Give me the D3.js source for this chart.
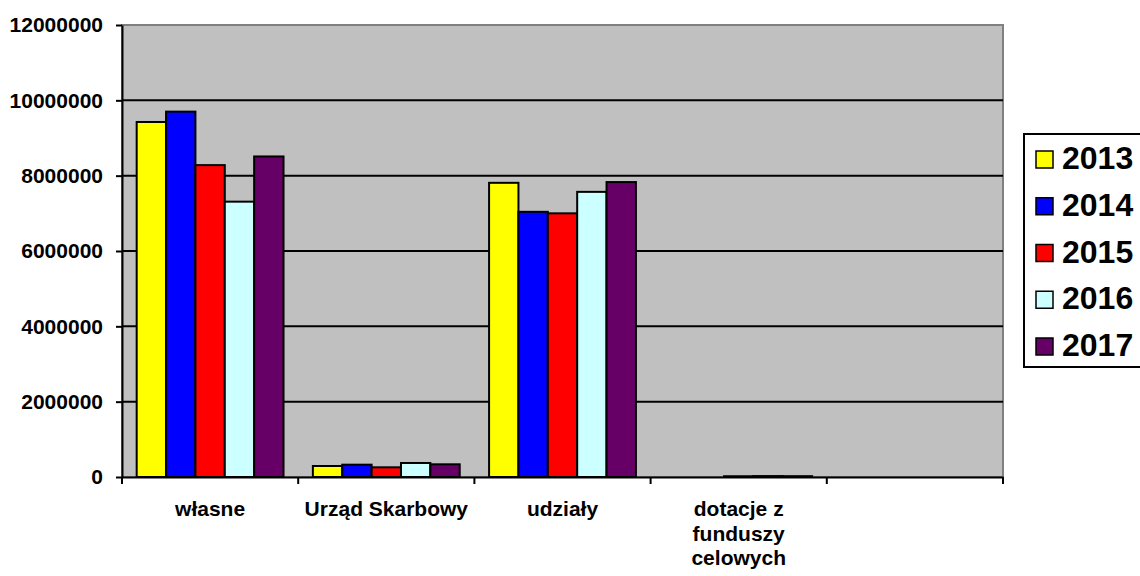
<!DOCTYPE html>
<html>
<head>
<meta charset="utf-8">
<script src="https://cdn.jsdelivr.net/npm/d3@7"></script>
<style>
  body { margin: 0; background: #fff; }
  svg text { font-family: "Liberation Sans", Arial, sans-serif; font-weight: bold; fill: #000; }
</style>
</head>
<body>
<script>
// categories (last one is an empty slot, as in the original sheet)
var categories = ["własne", "Urząd Skarbowy", "udziały", "dotacje z funduszy celowych", ""];
var categoryLines = [["własne"], ["Urząd Skarbowy"], ["udziały"], ["dotacje z", "funduszy", "celowych"], []];
var years = ["2013", "2014", "2015", "2016", "2017"];
var colors = ["#FFFF00", "#0000FF", "#FF0000", "#CCFFFF", "#660066"];

var v2013 = [9425000, 292000, 7810000, 0, 0];
var v2014 = [9700000, 327000, 7040000, 0, 0];
var v2015 = [8280000, 257000, 7000000, 20000, 0];
var v2016 = [7310000, 372000, 7570000, 25000, 0];
var v2017 = [8510000, 337000, 7830000, 22000, 0];
var series = [v2013, v2014, v2015, v2016, v2017];

var yTicks = [0, 2000000, 4000000, 6000000, 8000000, 10000000, 12000000];

var w = 1140, h = 576;
// note: "top" is taken by window.top, hence the m prefix
var mLeft = 122, mRight = 1003, mTop = 25, mBottom = 477;

var svg = d3.select("body").append("svg")
            .attr("width", w)
            .attr("height", h);

var x = d3.scaleBand()
          .domain(d3.range(categories.length))
          .range([mLeft, mRight])
          .padding(0);

var bw = x.bandwidth();
var xInner = d3.scaleBand()
          .domain(d3.range(years.length))
          .range([bw / 12, bw - bw / 12])
          .padding(0);

var y = d3.scaleLinear()
          .domain([0, 12000000])
          .range([mBottom, mTop]);

// plot area
svg.append("rect")
   .attr("x", mLeft).attr("y", mTop)
   .attr("width", mRight - mLeft).attr("height", mBottom - mTop)
   .attr("fill", "#C0C0C0")
   .attr("stroke", "#808080")
   .attr("stroke-width", 2);

// gridlines
svg.append("g").selectAll("line")
   .data(yTicks.filter(d => d > 0 && d < 12000000))
   .enter().append("line")
   .attr("x1", mLeft).attr("x2", mRight)
   .attr("y1", d => y(d)).attr("y2", d => y(d))
   .attr("stroke", "#000")
   .attr("stroke-width", 2);

// bars
var groups = svg.append("g").selectAll("g")
   .data(series)
   .enter().append("g")
   .attr("fill", (d, i) => colors[i]);

groups.selectAll("rect")
   .data((d, i) => d.map((v, j) => ({ v: v, s: i, c: j })).filter(d => d.v > 0))
   .enter().append("rect")
   .attr("x", d => x(d.c) + xInner(d.s))
   .attr("y", d => y(d.v))
   .attr("width", xInner.bandwidth())
   .attr("height", d => y(0) - y(d.v))
   .attr("stroke", "#000")
   .attr("stroke-width", 2);

// y axis
var yAxis = d3.axisLeft(y)
   .tickValues(yTicks)
   .tickFormat(d3.format("d"))
   .tickSize(6)
   .tickSizeOuter(0)
   .tickPadding(13);

var gy = svg.append("g")
   .attr("transform", `translate(${mLeft}, 0)`)
   .call(yAxis);
gy.selectAll("text").style("font-size", "21px").attr("font-family", null);
gy.selectAll("line, path").attr("stroke", "#000").attr("stroke-width", 2);

// x axis: line plus ticks at category borders
var xAxis = d3.axisBottom(x).tickSize(0).tickSizeOuter(0).tickFormat("");
var gx = svg.append("g")
   .attr("transform", `translate(0, ${mBottom})`)
   .call(xAxis);
gx.select("path").attr("stroke", "#000").attr("stroke-width", 2);
gx.selectAll(".tick").remove();

var borders = d3.range(categories.length).map(i => x(i)).concat([x(categories.length - 1) + bw]);
gx.selectAll(".border")
   .data(borders)
   .enter().append("line")
   .attr("class", "border")
   .attr("x1", d => d).attr("x2", d => d)
   .attr("y1", 0).attr("y2", 7)
   .attr("stroke", "#000")
   .attr("stroke-width", 2);

// category labels
var labels = svg.append("g").selectAll("text")
   .data(categoryLines)
   .enter().append("text")
   .attr("text-anchor", "middle")
   .style("font-size", "21px")
   .attr("transform", (d, i) => `translate(${x(i) + bw / 2}, 516)`);
labels.selectAll("tspan")
   .data(d => d)
   .enter().append("tspan")
   .attr("x", 0)
   .attr("y", (d, i) => i * 24.5)
   .text(d => d);

// legend
var legend = svg.append("g")
   .attr("transform", "translate(1024, 134)");
legend.append("rect")
   .attr("x", 0).attr("y", 0)
   .attr("width", 130).attr("height", 233)
   .attr("fill", "#fff")
   .attr("stroke", "#000")
   .attr("stroke-width", 2);

var items = legend.selectAll(".item")
   .data(years)
   .enter().append("g")
   .attr("class", "item")
   .attr("transform", (d, i) => `translate(0, ${35 + i * 46.75})`);
items.append("rect")
   .attr("x", 12).attr("y", -18)
   .attr("width", 17).attr("height", 17)
   .attr("fill", (d, i) => colors[i])
   .attr("stroke", "#000")
   .attr("stroke-width", 1.5);
items.append("text")
   .attr("x", 38)
   .attr("y", 0)
   .style("font-size", "32px")
   .text(d => d);
</script>
</body>
</html>
